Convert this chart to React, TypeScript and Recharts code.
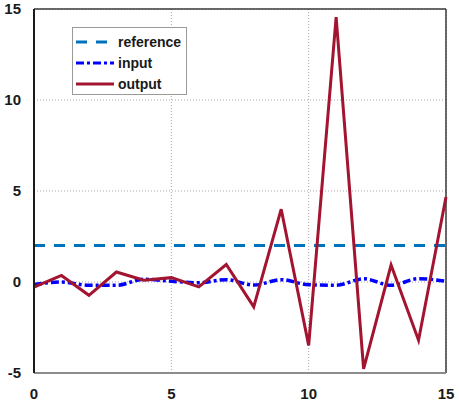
import React from 'react'
import {
    CartesianGrid,
    Legend,
    Line,
    LineChart,
    ReferenceLine,
    XAxis,
    YAxis
} from 'recharts'

const steps = [0, 1, 2, 3, 4, 5, 6, 7, 8, 9, 10, 11, 12, 13, 14, 15]
const referenceValues = [2, 2, 2, 2, 2, 2, 2, 2, 2, 2, 2, 2, 2, 2, 2, 2]
const inputValues = [
    -0.14, 0, -0.18, -0.18, 0.15, 0.04, -0.04, 0.13, -0.17, 0.13, -0.15,
    -0.18, 0.18, -0.18, 0.18, 0.04
]
const outputValues = [
    -0.28, 0.36, -0.73, 0.55, 0.1, 0.24, -0.27, 0.96, -1.37, 4.0, -3.48,
    14.55, -4.77, 0.93, -3.2, 4.67
]
const xTicks = [0, 5, 10, 15]
const yTicks = [-5, 0, 5, 10, 15]

const data = steps.map((step, i) => ({
    step,
    reference: referenceValues[i],
    input: inputValues[i],
    output: outputValues[i]
}))

const legendItems = [
    { label: 'reference', color: '#0072BD', dash: '11 9' },
    { label: 'input', color: '#0000FF', dash: '8 3 3 3' },
    { label: 'output', color: '#A2142F', dash: undefined }
]

const tickStyle = {
    fontFamily: 'Liberation Sans, Arial, sans-serif',
    fontSize: 15,
    fontWeight: 'bold',
    fill: '#1a1a1a'
}

const LegendBox = () => (
    <div
        style={{
            width: 115,
            height: 68,
            border: '1px solid #9a9a9a',
            background: '#ffffff',
            fontFamily: 'Liberation Sans, Arial, sans-serif',
            fontSize: 14,
            fontWeight: 'bold',
            color: '#1a1a1a',
            paddingTop: 3,
            boxSizing: 'border-box'
        }}
    >
        {legendItems.map((item) => (
            <div
                key={item.label}
                style={{ height: 21, display: 'flex', alignItems: 'center' }}
            >
                <svg width={44} height={8} style={{ marginLeft: 3 }}>
                    <line
                        x1={0}
                        y1={4}
                        x2={38}
                        y2={4}
                        stroke={item.color}
                        strokeWidth={3}
                        strokeDasharray={item.dash}
                    />
                </svg>
                <span style={{ marginLeft: -2 }}>{item.label}</span>
            </div>
        ))}
    </div>
)

const App = () => (
    <div style={{ position: 'absolute', left: 0, top: 0 }}>
        <LineChart
            width={459}
            height={404}
            data={data}
            margin={{ top: 9, right: 13, bottom: 2, left: 0 }}
        >
            <CartesianGrid
                stroke={'#a8a8a8'}
                strokeDasharray={'1 2'}
            />
            <XAxis
                type={'number'}
                dataKey={'step'}
                domain={[0, 15]}
                ticks={xTicks}
                height={29}
                tickLine={false}
                tickMargin={9}
                axisLine={{ stroke: '#8c8c8c', strokeWidth: 2 }}
                tick={tickStyle}
            />
            <YAxis
                type={'number'}
                domain={[-5, 15]}
                ticks={yTicks}
                width={34}
                tickLine={false}
                tickMargin={7}
                axisLine={{ stroke: '#1a1a1a', strokeWidth: 2 }}
                tick={tickStyle}
            />
            <ReferenceLine
                y={15}
                stroke={'#3a3a3a'}
                strokeWidth={1.5}
            />
            <ReferenceLine
                x={15}
                stroke={'#3a3a3a'}
                strokeWidth={1.5}
            />
            <Line
                dataKey={'reference'}
                stroke={'#0072BD'}
                strokeWidth={3}
                strokeDasharray={'11 9'}
                dot={false}
                isAnimationActive={false}
            />
            <Line
                type={'monotone'}
                dataKey={'input'}
                stroke={'#0000FF'}
                strokeWidth={3.5}
                strokeDasharray={'8 3 3 3'}
                dot={false}
                isAnimationActive={false}
            />
            <Line
                dataKey={'output'}
                stroke={'#A2142F'}
                strokeWidth={3}
                dot={false}
                isAnimationActive={false}
            />
            <Legend
                layout={'vertical'}
                align={'center'}
                verticalAlign={'middle'}
                wrapperStyle={{ top: 27, left: 72, width: 117, height: 70 }}
                content={() => <LegendBox />}
            />
        </LineChart>
    </div>
)

export default App
